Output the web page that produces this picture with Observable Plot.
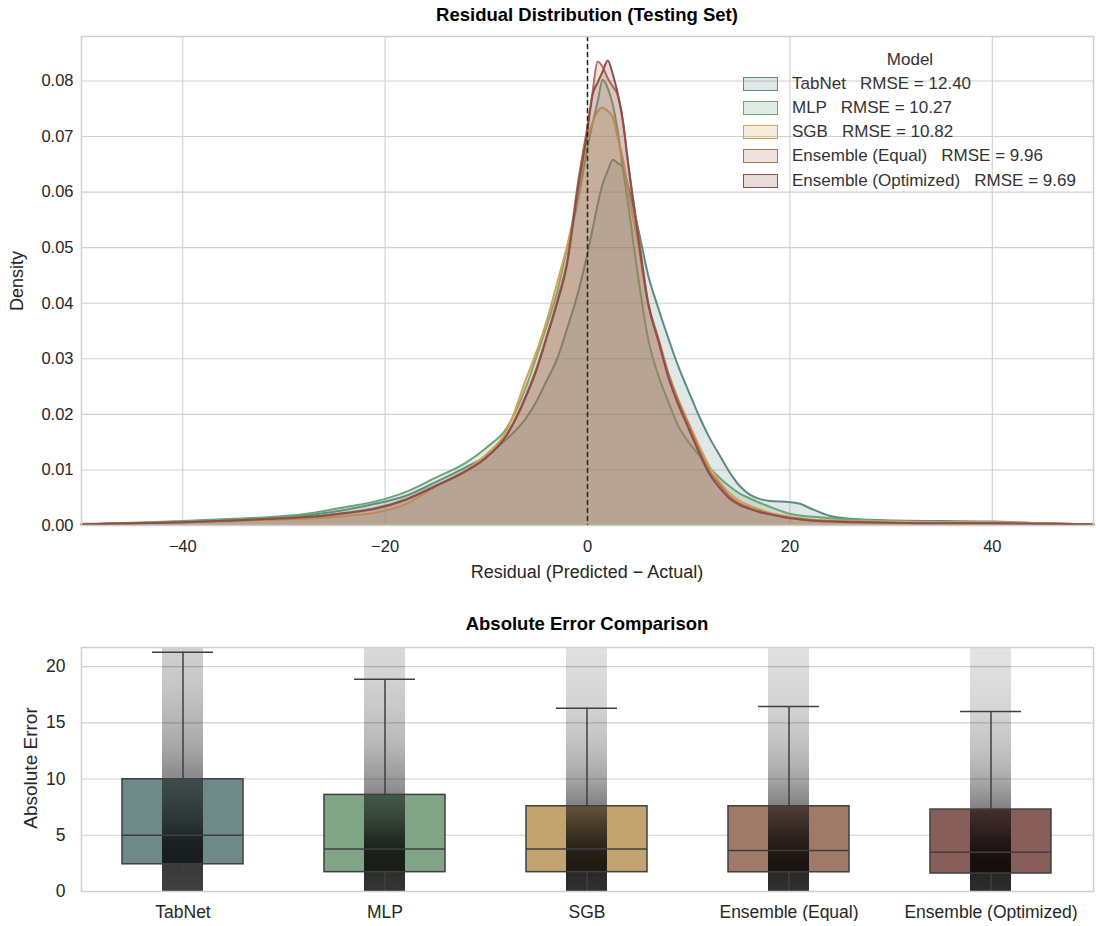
<!DOCTYPE html>
<html><head><meta charset="utf-8">
<script src="https://cdn.jsdelivr.net/npm/d3@7"></script>
<script src="https://cdn.jsdelivr.net/npm/@observablehq/plot@0.6"></script>
<style>
body{margin:0;background:#fff;font-family:"Liberation Sans",Arial,sans-serif;}
#wrap{position:relative;width:1096px;height:926px;overflow:hidden;}
.abs{position:absolute;white-space:pre;}
.c{transform:translate(-50%,-50%);}
.rot{transform:translate(-50%,-50%) rotate(-90deg);}
.title{font-weight:bold;font-size:18.5px;color:#000;}
.lab{font-size:18px;color:#262626;}
.sw{position:absolute;width:33px;height:12px;border-width:1.8px;border-style:solid;}
</style></head>
<body><div id="wrap"></div>
<script>
// ---------- data ----------
const models = ["TabNet","MLP","SGB","Ensemble (Equal)","Ensemble (Optimized)"];
const rmse = [12.40, 10.27, 10.82, 9.96, 9.69];

// residual grid (x) and KDE density
const xs = [-50,-45,-40,-35,-30,-27,-24,-21,-18,-15,-12,-10,-8,-6,-5,-4,-3,-2,-1,0,0.5,1,1.5,2,2.5,3,3.5,4,5,6,7,8,9,10,11,12,13,14,15,16,17,18,20,21,22,24,26,30,35,40,45,50];
const densTabNet = [0.0002,0.0004,0.0007,0.0011,0.0015,0.0020,0.0028,0.0039,0.0053,0.0078,0.0105,0.0125,0.0155,0.0195,0.0225,0.0262,0.0300,0.0355,0.0415,0.0490,0.0533,0.0577,0.0615,0.0638,0.0658,0.0652,0.0645,0.0612,0.0535,0.0450,0.0391,0.0336,0.0285,0.0241,0.0198,0.0160,0.0128,0.0097,0.0072,0.0056,0.0048,0.0044,0.0042,0.0039,0.0031,0.0017,0.0012,0.0009,0.0008,0.0007,0.0004,0.0002];
const densMLP = [0.0003,0.0005,0.0008,0.0012,0.0017,0.0023,0.0033,0.0043,0.0060,0.0086,0.0113,0.0140,0.0175,0.0253,0.0306,0.0361,0.0420,0.0500,0.0580,0.0680,0.0724,0.0762,0.0802,0.0787,0.0757,0.0708,0.0643,0.0580,0.0448,0.0335,0.0270,0.0222,0.0178,0.0150,0.0127,0.0105,0.0087,0.0071,0.0058,0.0049,0.0041,0.0034,0.0021,0.0018,0.0016,0.0013,0.0011,0.0008,0.0006,0.0005,0.0004,0.0002];
const densSGB = [0.0002,0.0004,0.0006,0.0008,0.0011,0.0013,0.0017,0.0023,0.0038,0.0070,0.0100,0.0128,0.0170,0.0267,0.0315,0.0370,0.0437,0.0505,0.0590,0.0700,0.0725,0.0745,0.0752,0.0746,0.0735,0.0697,0.0660,0.0605,0.0505,0.0398,0.0338,0.0275,0.0226,0.0185,0.0145,0.0108,0.0080,0.0059,0.0045,0.0036,0.0029,0.0023,0.0016,0.0013,0.0011,0.0009,0.0008,0.0007,0.0006,0.0006,0.0004,0.0002];
const densEqual = [0.0002,0.0004,0.0006,0.0009,0.0013,0.0016,0.0023,0.0031,0.0047,0.0072,0.0099,0.0123,0.0163,0.0238,0.0285,0.0343,0.0405,0.0478,0.0610,0.0720,0.0780,0.0835,0.0825,0.0805,0.0790,0.0774,0.0728,0.0655,0.0527,0.0402,0.0336,0.0272,0.0222,0.0180,0.0138,0.0099,0.0075,0.0053,0.0040,0.0032,0.0026,0.0021,0.0014,0.0012,0.0010,0.0008,0.0007,0.0005,0.0004,0.0004,0.0003,0.0002];
const densOpt = [0.0002,0.0004,0.0006,0.0009,0.0013,0.0016,0.0022,0.0030,0.0046,0.0071,0.0098,0.0122,0.0162,0.0235,0.0282,0.0340,0.0400,0.0472,0.0600,0.0712,0.0775,0.0797,0.0817,0.0837,0.0812,0.0776,0.0727,0.0653,0.0520,0.0398,0.0332,0.0266,0.0216,0.0174,0.0132,0.0094,0.0069,0.0049,0.0037,0.0030,0.0024,0.0020,0.0013,0.0011,0.0009,0.0007,0.0006,0.0005,0.0004,0.0004,0.0003,0.0002];

const xTicksTop = [-40,-20,0,20,40];
const yTicksTop = [0,0.01,0.02,0.03,0.04,0.05,0.06,0.07,0.08];

// absolute error box statistics
const q1 = [2.42,1.72,1.72,1.71,1.60];
const median = [5.00,3.79,3.79,3.64,3.49];
const q3 = [9.98,8.59,7.58,7.58,7.29];
const whiskerLow = [0,0,0,0,0];
const whiskerHigh = [21.27,18.87,16.30,16.46,16.00];
const yTicksBottom = [0,5,10,15,20];

// darkness of the jittered point strip, read at the middle of each 1-unit band of absolute error (0-1,1-2,...)
const stripTabNet = [0.75,0.77,0.78,0.78,0.76,0.66,0.60,0.55,0.50,0.46,0.45,0.40,0.36,0.33,0.30,0.28,0.26,0.24,0.22,0.21,0.20,0.18];
const stripMLP = [0.80,0.82,0.82,0.80,0.74,0.66,0.58,0.52,0.47,0.42,0.38,0.34,0.30,0.27,0.25,0.23,0.21,0.20,0.18,0.17,0.16,0.15];
const stripSGB = [0.82,0.84,0.84,0.80,0.74,0.66,0.58,0.50,0.44,0.38,0.33,0.29,0.26,0.23,0.21,0.19,0.17,0.16,0.15,0.14,0.13,0.12];
const stripEqual = [0.82,0.84,0.84,0.80,0.74,0.66,0.58,0.50,0.44,0.38,0.33,0.29,0.26,0.23,0.21,0.19,0.17,0.16,0.15,0.14,0.13,0.12];
const stripOpt = [0.83,0.85,0.84,0.80,0.73,0.64,0.56,0.48,0.42,0.36,0.31,0.27,0.24,0.22,0.20,0.18,0.16,0.15,0.14,0.13,0.12,0.11];

// ---------- styles ----------
const lineColors = ["#5e8985","#6aa577","#d4a255","#b36d58","#8c4f4a"];
const boxColors = ["#6e8987","#7fa586","#c3a370","#a07a69","#875e5a"];
const font = "Liberation Sans, Arial, sans-serif";

const densities = [densTabNet, densMLP, densSGB, densEqual, densOpt];
const strips = [stripTabNet, stripMLP, stripSGB, stripEqual, stripOpt];

const wrap = document.getElementById("wrap");
function addText(txt, cls, left, top, extra){
  const d = document.createElement("div");
  d.className = "abs " + cls;
  d.textContent = txt;
  d.style.left = left + "px"; d.style.top = top + "px";
  if (extra) Object.assign(d.style, extra);
  wrap.appendChild(d);
  return d;
}

// ---------- top: KDE ----------
const kde = models.flatMap((m,i) => xs.map((x,j) => ({model:m, x, y:densities[i][j]})));
const topMarks = [];
models.forEach((m,i) => {
  const d = kde.filter(r => r.model === m);
  topMarks.push(Plot.areaY(d, {x:"x", y:"y", fill:lineColors[i], fillOpacity:0.2, curve:"monotone-x"}));
  topMarks.push(Plot.line(d, {x:"x", y:"y", stroke:lineColors[i], strokeWidth:2, curve:"monotone-x"}));
});

const topPlot = Plot.plot({
  width:1096, height:554, marginTop:10, marginBottom:55, marginLeft:81, marginRight:3,
  style:{fontFamily:font, fontSize:"16.5px", color:"#262626", background:"transparent"},
  x:{domain:[-50,50]},
  y:{domain:[0,0.088]},
  marks:[
    Plot.gridX({ticks:xTicksTop, stroke:"#d0d0d0", strokeOpacity:1, strokeWidth:1.1}),
    Plot.gridY({ticks:yTicksTop, stroke:"#d0d0d0", strokeOpacity:1, strokeWidth:1.1}),
    ...topMarks,
    Plot.ruleX([0], {stroke:"#222", strokeDasharray:"5,3", strokeWidth:1.5}),
    Plot.frame({stroke:"#cfcfcf", strokeWidth:1.5}),
    Plot.axisX({ticks:xTicksTop, tickSize:0, tickPadding:15, label:null}),
    Plot.axisY({ticks:yTicksTop, tickSize:0, tickPadding:8, tickFormat:d3.format(".2f"), label:null})
  ]
});
topPlot.style.position = "absolute"; topPlot.style.left = "0px"; topPlot.style.top = "26px";
wrap.appendChild(topPlot);

// ---------- bottom: box + strip ----------
const boxes = models.map((m,i) => ({model:m, q1:q1[i], med:median[i], q3:q3[i], lo:whiskerLow[i], hi:whiskerHigh[i]}));
const yMaxBottom = 21.7;
const edge = "#3f3f3f";

// vertical gradients (one per model) whose stops are the read strip darkness values
const NS = "http://www.w3.org/2000/svg";
function stripDefs(){
  const g = document.createElementNS(NS, "g");
  const defs = document.createElementNS(NS, "defs");
  strips.forEach((arr,i) => {
    const lg = document.createElementNS(NS, "linearGradient");
    lg.setAttribute("id", "strip" + i);
    lg.setAttribute("x1","0"); lg.setAttribute("y1","1"); lg.setAttribute("x2","0"); lg.setAttribute("y2","0");
    arr.forEach((o,j) => {
      const s = document.createElementNS(NS, "stop");
      s.setAttribute("offset", Math.min(1,(j+0.5)/yMaxBottom));
      s.setAttribute("stop-color", "#000");
      s.setAttribute("stop-opacity", o);
      lg.appendChild(s);
    });
    defs.appendChild(lg);
  });
  g.appendChild(defs);
  return g;
}

const stripMarks = models.map((m,i) => Plot.barY([boxes[i]], {x:"model", y1:0, y2:yMaxBottom, fill:`url(#strip${i})`, insetLeft:40, insetRight:40}));

const botPlot = Plot.plot({
  width:1096, height:284, marginTop:10, marginBottom:30, marginLeft:81, marginRight:3,
  style:{fontFamily:font, fontSize:"17.5px", color:"#262626", background:"transparent"},
  x:{type:"band", domain:models, paddingInner:0.4, paddingOuter:0.2},
  y:{domain:[0,yMaxBottom]},
  color:{domain:models, range:boxColors},
  marks:[
    stripDefs,
    Plot.gridY({ticks:yTicksBottom, stroke:"#d0d0d0", strokeOpacity:1, strokeWidth:1.1}),
    Plot.barY(boxes, {x:"model", y1:"q1", y2:"q3", fill:"model"}),
    ...stripMarks,
    Plot.barY(boxes, {x:"model", y1:"q1", y2:"q3", fill:"none", stroke:edge, strokeWidth:1.5}),
    Plot.tickY(boxes, {x:"model", y:"med", stroke:edge, strokeWidth:1.5}),
    Plot.ruleX(boxes, {x:"model", y1:"q3", y2:"hi", stroke:edge, strokeWidth:1.5}),
    Plot.ruleX(boxes, {x:"model", y1:"lo", y2:"q1", stroke:edge, strokeWidth:1.5}),
    Plot.tickY(boxes, {x:"model", y:"hi", stroke:edge, strokeWidth:1.5, insetLeft:30, insetRight:30}),
    Plot.frame({stroke:"#cfcfcf", strokeWidth:1.5}),
    Plot.axisX({tickSize:0, tickPadding:14, label:null}),
    Plot.axisY({ticks:yTicksBottom, tickSize:0, tickPadding:16, label:null})
  ]
});
botPlot.style.position = "absolute"; botPlot.style.left = "0px"; botPlot.style.top = "637px";
wrap.appendChild(botPlot);

// ---------- text ----------
addText("Residual Distribution (Testing Set)", "title c", 587, 15);
addText("Density", "lab rot", 17, 281);
addText("Residual (Predicted \u2212 Actual)", "lab c", 587, 572);
addText("Absolute Error Comparison", "title c", 587, 624);
addText("Absolute Error", "lab rot", 31, 768, {fontSize:"19px"});

// legend
addText("Model", "lab c", 910, 60, {fontSize:"17px", color:"#333"});
const rowY = [84, 108.3, 132.5, 156.7, 181];
models.forEach((m,i) => {
  const sw = document.createElement("div");
  sw.className = "sw";
  sw.style.left = "743px"; sw.style.top = (rowY[i]-7.5) + "px";
  sw.style.borderColor = lineColors[i];
  sw.style.background = d3.color(lineColors[i]).copy({opacity:0.2}).formatRgb();
  wrap.appendChild(sw);
  addText(m + "   RMSE = " + rmse[i].toFixed(2), "lab", 792, rowY[i]-10.5, {fontSize:"17px", color:"#333", lineHeight:"20px"});
});
</script>
</body></html>
